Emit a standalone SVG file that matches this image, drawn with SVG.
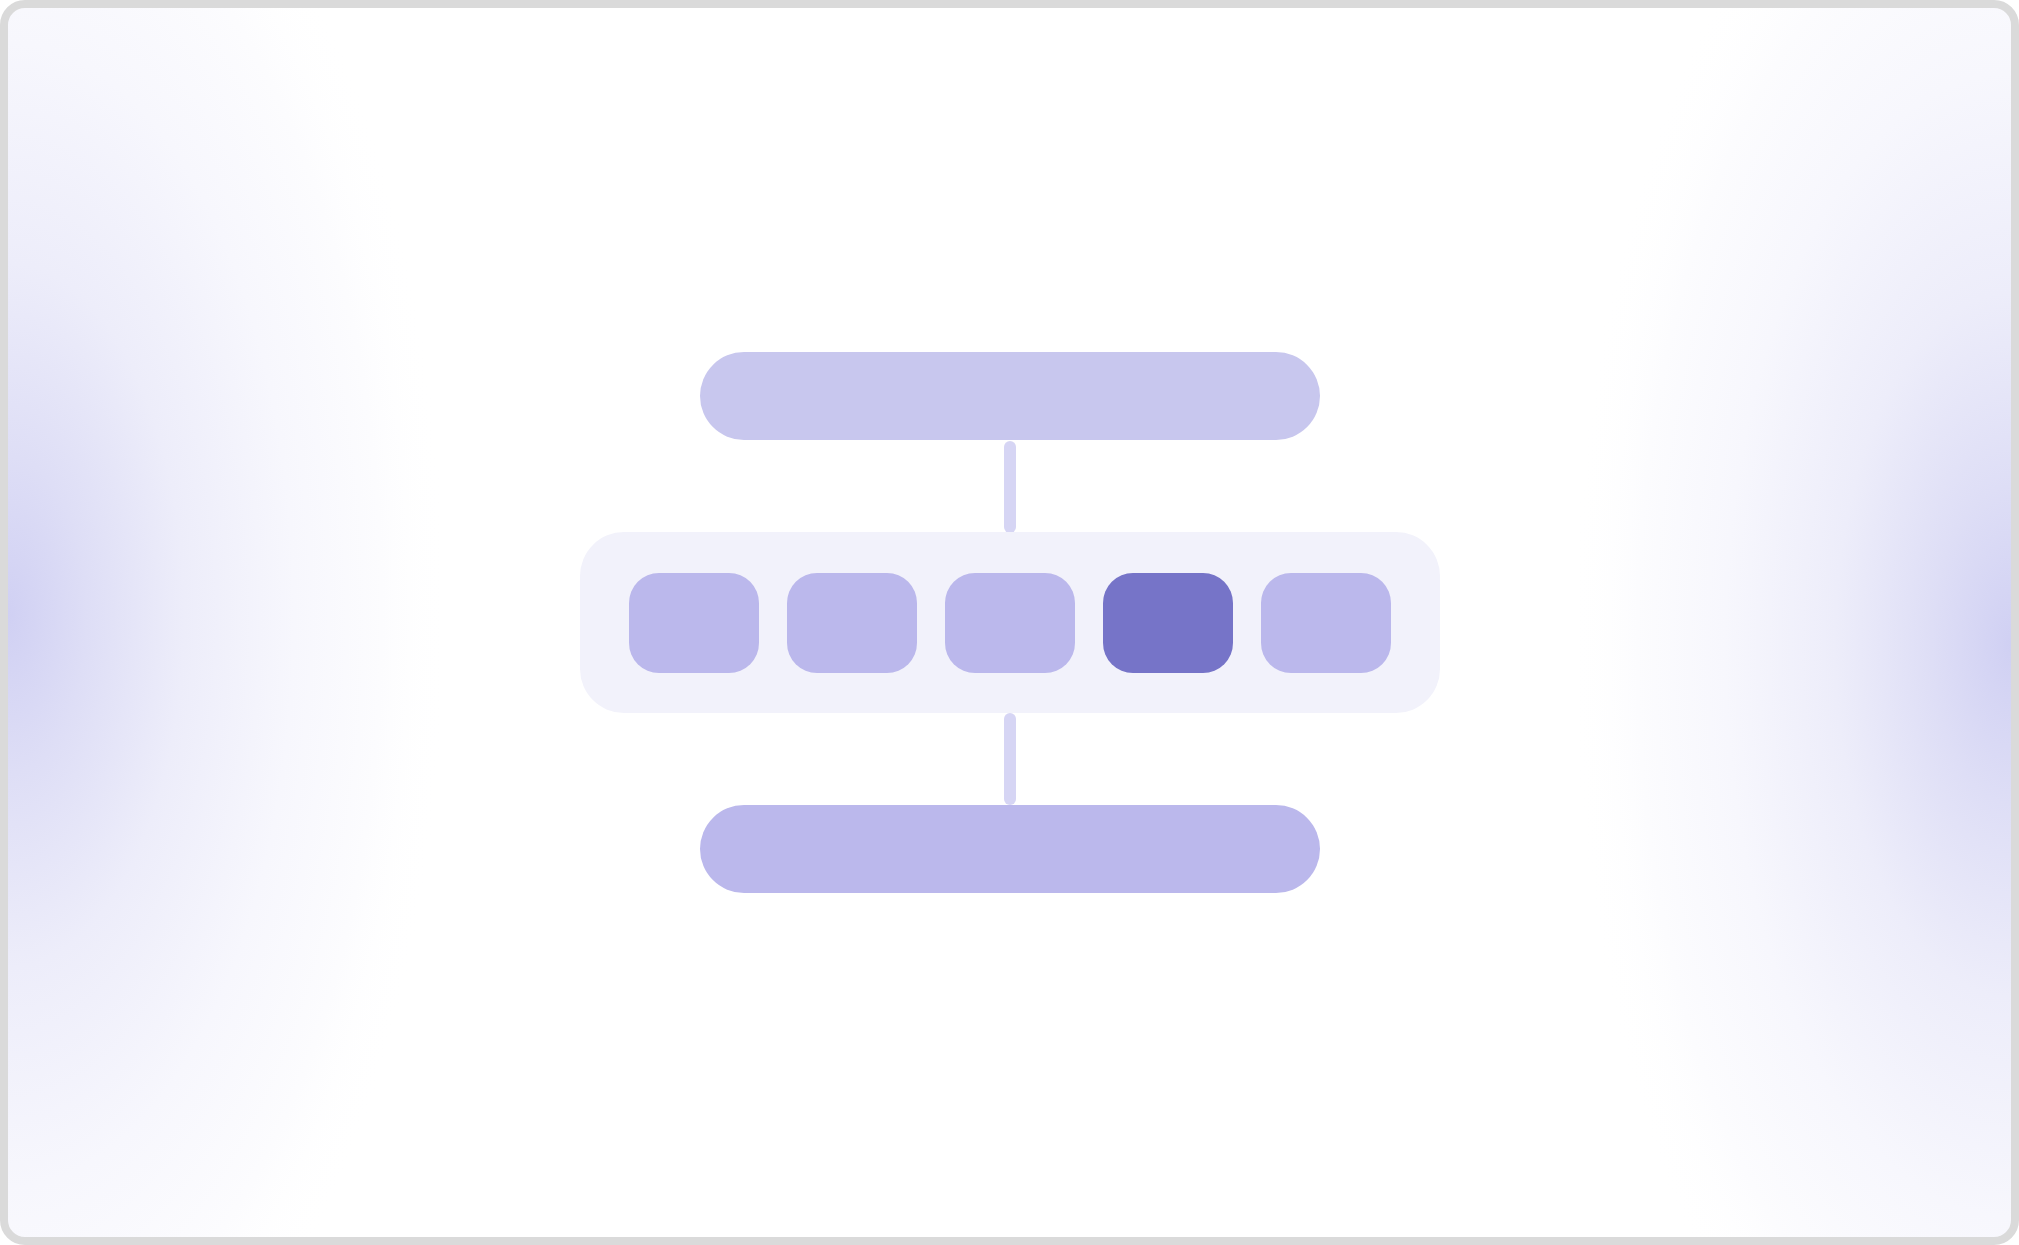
<svg xmlns="http://www.w3.org/2000/svg" width="2019" height="1245" viewBox="0 0 2019 1245">
  <defs>
    <radialGradient id="glow" cx="50%" cy="50%" r="50%">
      <stop offset="0" stop-color="#d0d0f3"/>
      <stop offset="0.18" stop-color="#dedef6"/>
      <stop offset="0.4" stop-color="#ededfa"/>
      <stop offset="0.65" stop-color="#f7f7fd"/>
      <stop offset="0.85" stop-color="#fcfcfe"/>
      <stop offset="1" stop-color="#ffffff" stop-opacity="0"/>
    </radialGradient>
    <clipPath id="frame">
      <rect x="4" y="4" width="2011" height="1237" rx="21"/>
    </clipPath>
    <style>
      .pill-top { fill: #c8c7ee; }
      .pill-bot { fill: #bbb8ec; }
      .cell { fill: #bbb8ec; }
      .cell-active { fill: #7674c8; }
      .container { fill: #f2f2fb; }
      .conn { fill: #d6d5f4; }
    </style>
  </defs>
  <rect x="0" y="0" width="2019" height="1245" fill="#ffffff"/>
  <g clip-path="url(#frame)">
    <rect x="4" y="4" width="2011" height="1237" fill="#ffffff"/>
    <ellipse cx="8" cy="615" rx="440" ry="880" fill="url(#glow)"/>
    <ellipse cx="2011" cy="645" rx="440" ry="880" fill="url(#glow)"/>
  </g>
  <rect x="4" y="4" width="2011" height="1237" rx="21" fill="none" stroke="#dadada" stroke-width="8"/>

  <g id="connectors">
    <rect class="conn" x="1004" y="441" width="12" height="92" rx="6"/>
    <rect class="conn" x="1004" y="713" width="12" height="92" rx="6"/>
  </g>

  <g id="top-node">
    <rect class="pill-top" x="700" y="352" width="620" height="88" rx="44"/>
  </g>

  <g id="container">
    <rect class="container" x="580" y="532" width="860" height="181" rx="44"/>
  </g>
  <g id="cell-1"><rect class="cell" x="629" y="573" width="130" height="100" rx="30"/></g>
  <g id="cell-2"><rect class="cell" x="787" y="573" width="130" height="100" rx="30"/></g>
  <g id="cell-3"><rect class="cell" x="945" y="573" width="130" height="100" rx="30"/></g>
  <g id="cell-4"><rect class="cell-active" x="1103" y="573" width="130" height="100" rx="30"/></g>
  <g id="cell-5"><rect class="cell" x="1261" y="573" width="130" height="100" rx="30"/></g>

  <g id="bottom-node">
    <rect class="pill-bot" x="700" y="805" width="620" height="88" rx="44"/>
  </g>
</svg>
